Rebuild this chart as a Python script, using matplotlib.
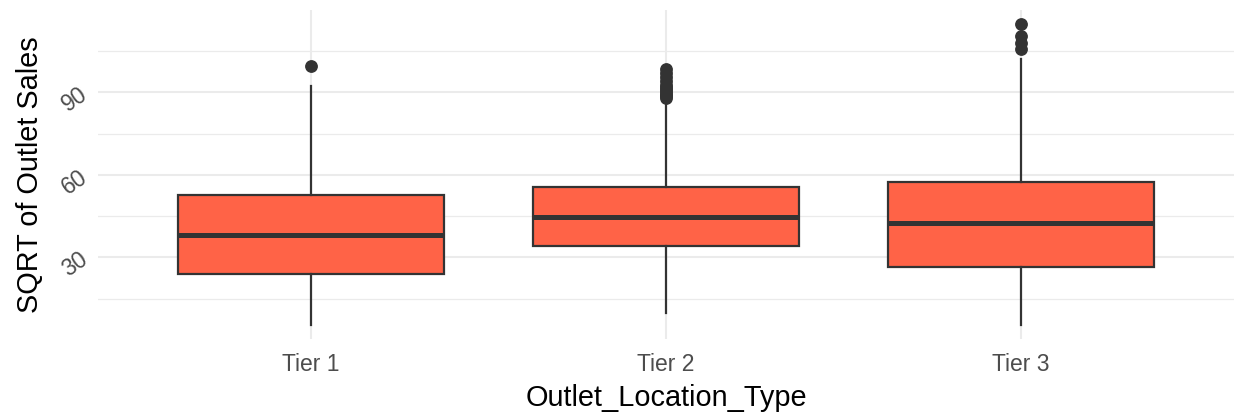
import matplotlib
matplotlib.use("Agg")
import matplotlib.pyplot as plt

plt.rcParams["font.family"] = ["Liberation Sans", "DejaVu Sans"]

# ----------------------------------------------------------------------
# Data
# ----------------------------------------------------------------------
tiers    = ["Tier 1", "Tier 2", "Tier 3"]
whislo   = [5.5, 9.8, 5.5]
q1       = [24.0, 34.0, 26.7]
medians  = [38.3, 44.7, 42.5]
q3       = [52.8, 55.7, 57.3]
whishi   = [92.4, 87.5, 102.0]
outliers = [
    [99.5],
    [88.0, 88.6, 89.2, 89.8, 90.5, 91.2, 92.0, 92.8, 94.0, 95.5, 97.0, 98.6],
    [105.8, 108.0, 110.6, 114.9],
]

FILL = "#FF6347"
EDGE = "#333333"
GRID = "#EBEBEB"

stats = []
for name, lo, a, m, b, hi, fl in zip(tiers, whislo, q1, medians, q3, whishi, outliers):
    stats.append(dict(label=name, whislo=lo, q1=a, med=m, q3=b, whishi=hi, fliers=fl))

fig = plt.figure(figsize=(12.38, 4.19), dpi=100)
ax = fig.add_axes([98 / 1238, 80 / 419, 1136 / 1238, 329 / 419])

ax.bxp(
    stats,
    positions=[1, 2, 3],
    widths=0.75,
    patch_artist=True,
    showcaps=False,
    boxprops=dict(facecolor=FILL, edgecolor=EDGE, linewidth=1.6),
    medianprops=dict(color=EDGE, linewidth=3.6, solid_capstyle="butt"),
    whiskerprops=dict(color=EDGE, linewidth=1.6),
    flierprops=dict(marker="o", markerfacecolor=EDGE, markeredgecolor=EDGE,
                    markersize=8.2, linestyle="none"),
    zorder=3,
)

ax.set_xlim(0.4, 3.6)
ax.set_ylim(0.35, 120.0)
ax.set_yticks([30, 60, 90])
ax.set_yticks([15, 45, 75, 105], minor=True)
ax.set_xticks([1, 2, 3])
ax.set_xticklabels(tiers)

ax.grid(which="major", color=GRID, linewidth=1.5, zorder=0)
ax.grid(which="minor", axis="y", color=GRID, linewidth=0.9, zorder=0)
ax.set_axisbelow(True)

for s in ax.spines.values():
    s.set_visible(False)
ax.tick_params(which="both", length=0)
ax.tick_params(axis="x", labelsize=16.5, colors="#4D4D4D", pad=10)
ax.tick_params(axis="y", labelsize=16.5, colors="#4D4D4D", pad=9)
for lab in ax.get_yticklabels():
    lab.set_rotation(35)
    lab.set_rotation_mode("anchor")
    lab.set_ha("right")
    lab.set_va("center")

ax.set_xlabel("Outlet_Location_Type", fontsize=20.8, color="black", labelpad=6)
ax.set_ylabel("SQRT of Outlet Sales", fontsize=20.8, color="black", labelpad=10)

fig.savefig("out.png", dpi=100)
